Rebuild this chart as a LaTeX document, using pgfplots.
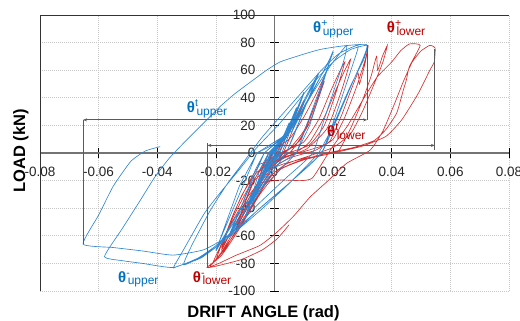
\documentclass[border=0pt]{standalone}
\usepackage{fontspec}
\setmainfont{Liberation Sans}
\usepackage{pgfplots}
\pgfplotsset{compat=1.18}
\usetikzlibrary{arrows.meta}
\definecolor{bl}{RGB}{45,135,210}
\definecolor{rd}{RGB}{215,45,45}
\definecolor{blt}{RGB}{0,112,192}
\definecolor{rdt}{RGB}{192,0,0}
\definecolor{dimc}{RGB}{90,90,90}
\newcommand{\thl}[2]{{\fontsize{15bp}{15bp}\selectfont\bfseries θ}\rlap{\raisebox{6bp}{\fontsize{10.5bp}{10.5bp}\selectfont #1}}\hspace{1.5bp}\raisebox{-2.5bp}{\fontsize{12bp}{12bp}\selectfont #2}}
\begin{document}
\begin{tikzpicture}
\useasboundingbox (-40bp,-30bp) rectangle (480bp,291bp);
\begin{axis}[at={(0,0)}, anchor=south west, scale only axis, width=469bp, height=276bp,
 xmin=-0.08, xmax=0.08, ymin=-100, ymax=100,
 scaled x ticks=false, scaled y ticks=false,
 axis lines=middle, axis line style={-, draw=black!55, line width=1.2bp},
 xtick={-0.08,-0.06,-0.04,-0.02,0,0.02,0.04,0.06,0.08},
 xticklabels={-0.08,-0.06,-0.04,-0.02,0,0.02,0.04,0.06,0.08},
 ytick={-100,-80,-60,-40,-20,0,20,40,60,80,100},
 yticklabels={-100,-80,-60,-40,-20,0,20,40,60,80,100},
 hide obscured x ticks=false, hide obscured y ticks=false,
 tick align=center, major tick length=9bp, tick style={black, line width=0.6bp},
 grid=major, major grid style={black!22, dash pattern=on 1bp off 1bp, line width=0.6bp},
 xticklabel style={anchor=north, inner sep=0pt, yshift=-9bp, font=\fontsize{13.5bp}{13.5bp}\selectfont, text=black!85},
 yticklabel style={anchor=east, inner sep=0pt, xshift=-14.5bp, font=\fontsize{13.5bp}{13.5bp}\selectfont, text=black!85},
]
% ---------- lower (red) ----------
\addplot[rd, line width=0.65bp] coordinates {
(0,0)(0.003,10)(0.0012,2)(-0.003,-12)(-0.001,-2)(0.003,10)(0.001,1)(-0.003,-12)(-0.001,-1)
(0.003,9)(0.006,22)(0.0025,4)(0.0015,0)(-0.002,-9)(-0.005,-22)(-0.0022,-5)(-0.001,0)(0.003,9)(0.006,21)(0.0015,0)(-0.005,-21)(-0.001,0)
(0.004,12)(0.01,38)(0.005,10)(0.003,0)(-0.003,-14)(-0.008,-36)(-0.004,-10)(-0.002,0)(0.004,11)(0.01,36)(0.003,0)(-0.008,-34)(-0.002,0)
};
\addplot[rd, line width=0.65bp, smooth, tension=0.3] coordinates {
(-0.002,0)(0.005,10)(0.01,26)(0.014,42)(0.017,55)(0.013,30)(0.009,10)(0.004,1)(-0.002,-8)(-0.007,-28)(-0.011,-46)(-0.013,-56)(-0.010,-36)(-0.006,-16)(-0.001,-4)(0.005,3)(0.010,16)(0.014,36)(0.017,52)(0.012,22)(0.006,2)(0.0,-8)(-0.006,-26)(-0.013,-54)(-0.008,-24)(-0.003,-6)
(0.004,2)(0.010,8)(0.015,24)(0.019,44)(0.022,58)(0.024,66)(0.021,44)(0.017,20)(0.012,6)(0.005,0)(-0.001,-8)(-0.007,-26)(-0.012,-46)(-0.016,-62)(-0.018,-70)(-0.015,-50)(-0.011,-30)(-0.006,-14)(0.0,-6)(0.007,0)(0.012,8)(0.017,26)(0.021,46)(0.024,60)(0.026,68)(0.023,46)(0.018,18)(0.011,3)(0.003,-4)(-0.003,-14)(-0.010,-40)(-0.018,-68)(-0.014,-44)(-0.009,-22)(-0.005,-8)
};
\addplot[rd, line width=0.65bp, smooth, tension=0.3] coordinates {
(-0.005,-8)(0.003,-3)(0.010,1)(0.016,5)(0.019,9)(0.023,28)(0.026,45)(0.0285,58)(0.029,50)(0.031,66)(0.032,78)
(0.031,68)(0.028,48)(0.024,26)(0.020,10)(0.014,2)(0.006,-3)(0.0,-10)(-0.006,-28)(-0.012,-50)(-0.017,-68)(-0.020,-78)
(-0.018,-66)(-0.014,-46)(-0.009,-26)(-0.004,-14)(0.003,-8)(0.010,-4)(0.018,-1)(0.022,2)(0.026,18)(0.030,38)(0.033,56)(0.0348,70)(0.0352,60)(0.0368,70)(0.0385,78)
(0.037,66)(0.034,50)(0.030,30)(0.026,14)(0.020,4)(0.012,-2)(0.004,-8)(-0.002,-18)(-0.008,-40)(-0.014,-60)(-0.021,-80)
(-0.019,-70)(-0.015,-52)(-0.010,-34)(-0.005,-22)(0.002,-19.6)(0.009,-20)(0.013,-18)(0.019,2)(0.025,20)(0.030,38)(0.035,55)(0.040,66)(0.043,74)(0.046,79)(0.0497,78)
(0.046,62.5)(0.045,53)(0.044,46)(0.0417,29)(0.038,17)(0.034,9)(0.027,4)(0.018,0)(0.008,-6)(0.0,-14)(-0.006,-32)(-0.012,-52)(-0.017,-70)(-0.022,-82)
(-0.019,-80)(-0.013,-74)(-0.005,-67)(0.0005,-58)(0.0064,-46)(0.0121,-32)(0.0178,-21)(0.0246,-7.5)(0.0326,2)(0.037,16)(0.041,36)(0.044,52)(0.047,66)(0.050,74)(0.053,78)(0.0548,76)
(0.0545,66)(0.053,60)(0.049,43)(0.0434,24)(0.038,12)(0.030,5)(0.020,0)(0.010,-5)(0.002,-12)(-0.005,-30)(-0.012,-55)(-0.018,-74)(-0.023,-83)
(-0.018,-81)(-0.011,-77)(-0.004,-70)(0.001,-62)(0.005,-52)
};
% ---------- upper (blue) ----------
\addplot[bl, line width=0.65bp] coordinates {
(0,0)(0.0025,11)(0.0012,4)(0.0004,0)(-0.0025,-12)(-0.0012,-4)(-0.0004,0)(0.0025,11)(0.001,3)(-0.0025,-11)(-0.0008,-2)
(0.002,7)(0.005,22)(0.0025,7)(0.0012,0)(-0.002,-8)(-0.005,-24)(-0.0025,-8)(-0.0012,0)(0.002,8)(0.005,21)(0.0013,1)(-0.005,-23)(-0.0012,-1)
(0.003,10)(0.0075,33)(0.0035,10)(0.0018,0)(-0.003,-12)(-0.0075,-36)(-0.0035,-11)(-0.0015,0)(0.003,11)(0.0075,32)(0.0018,0)(-0.0075,-35)(-0.0015,0)
(0.004,13)(0.01,44)(0.0045,11)(0.0025,0)(-0.004,-14)(-0.01,-47)(-0.005,-12)(-0.002,0)(0.004,12)(0.01,43)(0.0025,0)(-0.01,-46)(-0.002,0)
};
\addplot[bl, line width=0.65bp] coordinates {
(-0.002,0)(0.005,16)(0.011,42)(0.015,58)(0.0065,12)(0.004,0)(-0.004,-15)(-0.011,-45)(-0.015,-59)(-0.0065,-12)(-0.0035,0)(0.005,15)(0.015,57)(0.004,0)(-0.015,-57)(-0.0035,0)
(0.006,18)(0.013,45)(0.018,64)(0.020,74)(0.012,20)(0.0075,0)(-0.003,-14)(-0.012,-44)(-0.018,-64)(-0.020,-71)(-0.012,-24)(-0.006,0)(0.006,16)(0.013,44)(0.020,73)(0.0075,0)(-0.012,-42)(-0.020,-70)(-0.006,0)
};
\addplot[bl, line width=0.65bp, smooth, tension=0.3] coordinates {
(-0.006,0)(0.004,12)(0.012,40)(0.019,63)(0.0246,78)(0.0235,66)(0.0175,28)(0.013,0)(0.004,-18)(-0.006,-38)(-0.015,-58)(-0.024,-74)(-0.031,-81)
(-0.028,-66)(-0.022,-42)(-0.016,-22)(-0.010,-5)(-0.004,12)(0.006,36)(0.016,60)(0.022,72)(0.0285,78)
(0.027,66)(0.021,28)(0.016,0)(0.006,-20)(-0.005,-40)(-0.015,-60)(-0.025,-76)(-0.033,-82)(-0.0345,-83)
(-0.031,-70)(-0.024,-44)(-0.0186,-29)(-0.012,-12)(-0.006,4)(0.002,22)(0.012,48)(0.020,66)(0.026,75)(0.0315,78)
(0.0305,70)(0.026,48)(0.020,18)(0.016,0)(0.006,-20)(-0.006,-42)(-0.018,-64)(-0.026,-76)(-0.0346,-83)(-0.045,-80)(-0.052,-78)(-0.058,-75)
(-0.052,-55)(-0.046,-35)(-0.041,-18)(-0.036,-4)(-0.030,9.4)(-0.0231,24)(-0.0186,33.6)(-0.0135,43)(-0.0072,53)(-0.0027,60)(0.0019,66)(0.009,71)(0.0155,75)(0.023,77.5)(0.0315,78.5)
(0.0305,68)(0.0258,48)(0.020,20)(0.015,0)(0.006,-20)(-0.004,-40)(-0.014,-58)(-0.024,-70)(-0.0346,-74)(-0.045,-71)(-0.055,-68.5)(-0.0653,-66)
(-0.060,-45)(-0.055,-24)(-0.049,-6)(-0.044,1.5)(-0.039,4.6)
};
% ---------- frame and dimension lines ----------
\draw[black!80, line width=0.9bp] (rel axis cs:0,0) rectangle (rel axis cs:1,1);
\draw[dimc, line width=0.8bp] (axis cs:-0.0653,-66) -- (axis cs:-0.0653,24);
\draw[dimc, line width=0.8bp, {Stealth[length=4bp,width=3bp]}-{Stealth[length=4bp,width=3bp]}] (axis cs:-0.0653,24) -- (axis cs:0.0316,24);
\draw[dimc, line width=0.8bp] (axis cs:0.0316,24) -- (axis cs:0.0316,78.5);
\draw[dimc, line width=0.8bp] (axis cs:-0.0229,-83) -- (axis cs:-0.0229,7);
\draw[dimc, line width=0.8bp, {Stealth[length=4bp,width=3bp]}-{Stealth[length=4bp,width=3bp]}] (axis cs:-0.0229,5.5) -- (axis cs:0.0547,5.5);
\draw[dimc, line width=0.8bp] (axis cs:0.0547,2) -- (axis cs:0.0547,75.5);
\end{axis}
\node[anchor=base west, text=blt, inner sep=0pt] at (273bp,258bp) {\thl{+}{upper}};
\node[anchor=base west, text=rdt, inner sep=0pt] at (346.7bp,258bp) {\thl{+}{lower}};
\node[anchor=base west, text=blt, inner sep=0pt] at (146.7bp,178bp) {\thl{t}{upper}};
\node[anchor=base west, text=rdt, inner sep=0pt] at (287bp,154bp) {\thl{t}{lower}};
\node[anchor=base west, text=blt, inner sep=0pt] at (78bp,9bp) {\thl{-}{upper}};
\node[anchor=base west, text=rdt, inner sep=0pt] at (152.7bp,9bp) {\thl{-}{lower}};
\node[rotate=90, anchor=base, inner sep=0pt, font=\bfseries\fontsize{16.5bp}{16.5bp}\selectfont] at (-15bp,140bp) {LOAD (kN)};
\node[anchor=base, inner sep=0pt, font=\bfseries\fontsize{16.5bp}{16.5bp}\selectfont] at (223.5bp,-26bp) {DRIFT ANGLE (rad)};
\end{tikzpicture}
\end{document}
